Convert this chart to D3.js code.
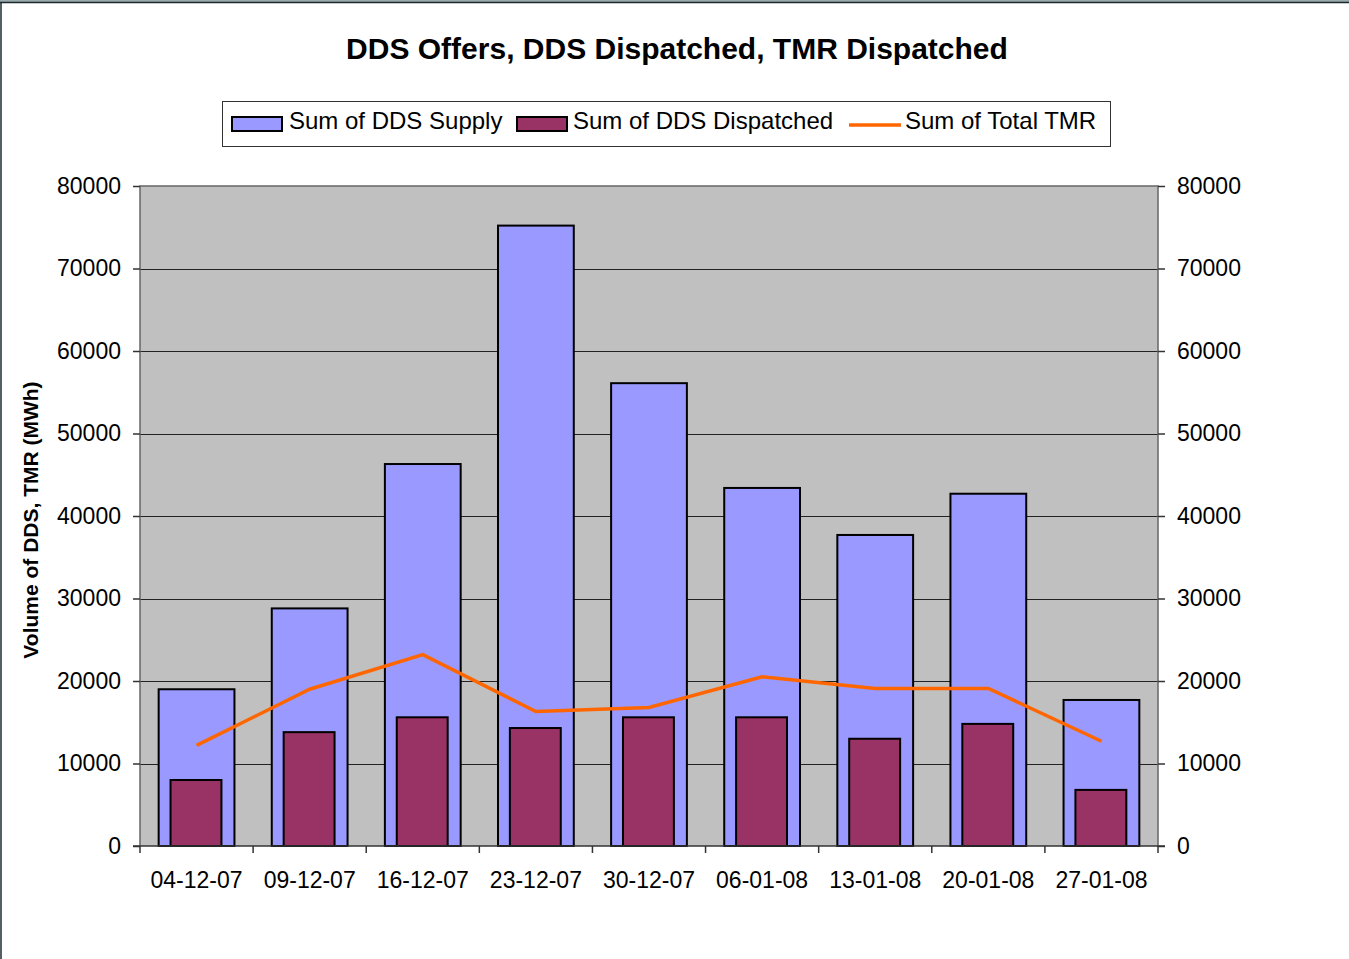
<!DOCTYPE html>
<html>
<head>
<meta charset="utf-8">
<script src="https://cdn.jsdelivr.net/npm/d3@7"></script>
<style>
  body { margin: 0; background: #fff; }
  svg { display: block; font-family: "Liberation Sans", Arial, sans-serif; }
</style>
</head>
<body>
<div id="chart"></div>
<script>
const weeks = ['04-12-07', '09-12-07', '16-12-07', '23-12-07', '30-12-07', '06-01-08', '13-01-08', '20-01-08', '27-01-08'];
const ddsSupply = [19000, 28800, 46300, 75200, 56100, 43400, 37700, 42700, 17700];
const ddsDispatched = [8000, 13800, 15600, 14300, 15600, 15600, 13000, 14800, 6800];
const totalTmr = [12200, 19000, 23200, 16300, 16800, 20500, 19100, 19100, 12700];
const yTicks = [0, 10000, 20000, 30000, 40000, 50000, 60000, 70000, 80000];

let width = 1349, height = 959;
let margin = {left: 140, right: 191, top: 186, bottom: 113};

let svg = d3.select('#chart').append('svg')
    .attr('width', width)
    .attr('height', height);

// outer frame
svg.append('rect').attr('x', 0).attr('y', 0).attr('width', width).attr('height', 2).attr('fill', '#9aa9ab');
svg.append('line').attr('x1', 0).attr('x2', width).attr('y1', 2.5).attr('y2', 2.5).attr('stroke', '#1a2a2e').attr('stroke-width', 1.5);
svg.append('line').attr('x1', 1).attr('x2', 1).attr('y1', 2).attr('y2', height).attr('stroke', '#1a2a2e').attr('stroke-width', 1.5);

let x = d3.scaleBand().domain(weeks).range([margin.left, width - margin.right]);
let y = d3.scaleLinear().domain([0, 80000]).range([height - margin.bottom, margin.top]);

// plot background
svg.append('rect')
    .attr('x', x.range()[0]).attr('y', y(80000))
    .attr('width', x.range()[1] - x.range()[0]).attr('height', y(0) - y(80000))
    .attr('fill', '#c0c0c0');

// gridlines
svg.append('g').selectAll('line').data(yTicks.slice(1, -1)).enter().append('line')
    .attr('x1', x.range()[0]).attr('x2', x.range()[1])
    .attr('y1', d => Math.round(y(d)) + 0.5).attr('y2', d => Math.round(y(d)) + 0.5)
    .attr('stroke', '#222').attr('stroke-width', 1);

// plot border (left, top, right)
svg.append('path')
    .attr('d', `M${x.range()[0]},${y(0)}V${y(80000)}H${x.range()[1]}V${y(0)}`)
    .attr('fill', 'none').attr('stroke', '#666').attr('stroke-width', 1.5);

let bw = x.bandwidth();

// supply bars
svg.append('g').selectAll('rect').data(ddsSupply).enter().append('rect')
    .attr('x', (d, i) => x(weeks[i]) + bw * 0.165)
    .attr('y', d => y(d))
    .attr('width', bw * 0.67)
    .attr('height', d => y(0) - y(d))
    .attr('fill', '#9999ff').attr('stroke', '#000').attr('stroke-width', 2);

// dispatched bars
svg.append('g').selectAll('rect').data(ddsDispatched).enter().append('rect')
    .attr('x', (d, i) => x(weeks[i]) + bw * 0.27)
    .attr('y', d => y(d))
    .attr('width', bw * 0.45)
    .attr('height', d => y(0) - y(d))
    .attr('fill', '#993366').attr('stroke', '#000').attr('stroke-width', 2);

// TMR line
let line = d3.line().x((d, i) => x(weeks[i]) + bw / 2).y(d => y(d));
svg.append('path').datum(totalTmr)
    .attr('d', line)
    .attr('fill', 'none').attr('stroke', '#ff6600').attr('stroke-width', 3.5);

// axes
let leftAxis = d3.axisLeft(y).tickValues(yTicks).tickSize(7).tickPadding(12).tickFormat(d3.format('d'));
let rightAxis = d3.axisRight(y).tickValues(yTicks).tickSize(7).tickPadding(12).tickFormat(d3.format('d'));
let bottomAxis = d3.axisBottom(x).tickSize(0).tickPadding(26);

function styleAxis(g) {
    g.select('.domain').remove();
    g.selectAll('line').attr('stroke', '#333').attr('stroke-width', 1.5);
    g.selectAll('text').attr('font-size', 23).attr('fill', '#000')
        .attr('font-family', '"Liberation Sans", Arial, sans-serif');
}

svg.append('g').attr('transform', `translate(${x.range()[0]},0)`).call(leftAxis).call(styleAxis);
svg.append('g').attr('transform', `translate(${x.range()[1]},0)`).call(rightAxis).call(styleAxis);
svg.append('g').attr('transform', `translate(0,${y(0)})`).call(bottomAxis).call(styleAxis);

// x axis line and category ticks
svg.append('line')
    .attr('x1', x.range()[0] - 7).attr('x2', x.range()[1] + 7)
    .attr('y1', y(0)).attr('y2', y(0))
    .attr('stroke', '#333').attr('stroke-width', 1.5);
svg.append('g').selectAll('line').data(weeks.concat(['end'])).enter().append('line')
    .attr('x1', (d, i) => x.range()[0] + i * x.step())
    .attr('x2', (d, i) => x.range()[0] + i * x.step())
    .attr('y1', y(0)).attr('y2', y(0) + 7)
    .attr('stroke', '#333').attr('stroke-width', 1.5);

// title
svg.append('text')
    .attr('x', 677).attr('y', 59)
    .attr('text-anchor', 'middle')
    .attr('font-size', 30).attr('font-weight', 'bold')
    .text('DDS Offers, DDS Dispatched, TMR Dispatched');

// y axis title
svg.append('text')
    .attr('transform', 'translate(38,520) rotate(-90)')
    .attr('text-anchor', 'middle')
    .attr('font-size', 21).attr('font-weight', 'bold')
    .text('Volume of DDS, TMR (MWh)');

// legend
let legend = svg.append('g');
legend.append('rect')
    .attr('x', 222.5).attr('y', 101.5).attr('width', 888).attr('height', 45)
    .attr('fill', '#fff').attr('stroke', '#333').attr('stroke-width', 1);

let legendItems = [
    {label: 'Sum of DDS Supply', type: 'bar', color: '#9999ff', x: 232, tx: 289},
    {label: 'Sum of DDS Dispatched', type: 'bar', color: '#993366', x: 517, tx: 573},
    {label: 'Sum of Total TMR', type: 'line', color: '#ff6600', x: 849, tx: 905}
];
legendItems.forEach(item => {
    if (item.type === 'bar') {
        legend.append('rect')
            .attr('x', item.x).attr('y', 117).attr('width', 50).attr('height', 14)
            .attr('fill', item.color).attr('stroke', '#000').attr('stroke-width', 2);
    } else {
        legend.append('line')
            .attr('x1', item.x).attr('x2', item.x + 52).attr('y1', 125).attr('y2', 125)
            .attr('stroke', item.color).attr('stroke-width', 3.5);
    }
    legend.append('text')
        .attr('x', item.tx).attr('y', 129)
        .attr('font-size', 24)
        .text(item.label);
});
</script>
</body>
</html>
